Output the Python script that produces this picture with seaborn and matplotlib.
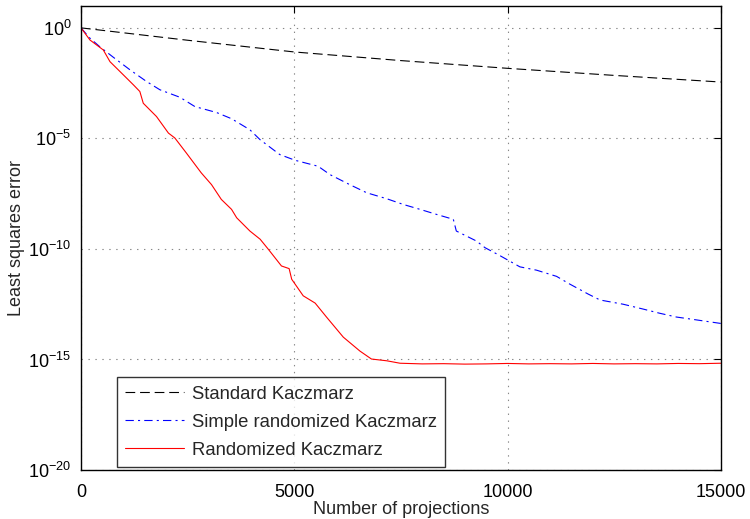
import numpy as np
import pandas as pd
import matplotlib
matplotlib.use("Agg")
import matplotlib.pyplot as plt
import matplotlib.ticker as mticker
import seaborn as sns

# ---------------------------------------------------------
# data (y stored as log10 exponents)
# ---------------------------------------------------------
std_x = [0, 2500, 5000, 7500, 10000, 12500, 15000]
std_log = [0, -0.56, -1.09, -1.48, -1.83, -2.15, -2.45]

simple_x = [0, 200, 445, 758, 1150, 1540, 1850, 2320, 2670, 3180, 3530, 3960,
            4200, 4660, 5020, 5560, 5840, 6300, 6700, 7170, 7560, 7950, 8340,
            8730, 8800, 9270, 9470, 9820, 10290, 10680, 11150, 11460, 11890,
            12170, 12710, 13180, 13570, 13960, 14430, 15000]
simple_log = [0, -0.45, -0.86, -1.33, -1.9, -2.43, -2.8, -3.14, -3.56, -3.83,
              -4.11, -4.61, -5.06, -5.73, -5.99, -6.26, -6.64, -7.09, -7.46,
              -7.73, -7.99, -8.21, -8.44, -8.66, -9.19, -9.64, -9.94, -10.3,
              -10.81, -10.96, -11.24, -11.59, -12.04, -12.31, -12.5, -12.72,
              -12.91, -13.08, -13.21, -13.37]

rand_x = [0, 211, 523, 680, 995, 1230, 1380, 1460, 1770, 2050, 2200, 2470,
          2820, 3060, 3290, 3530, 3650, 3960, 4200, 4390, 4700, 4880, 4940,
          5210, 5490, 5760, 6150, 6540, 6810, 7170, 7480, 8000, 8500, 9000,
          9500, 10000, 10500, 11000, 11500, 12000, 12500, 13000, 13500, 14000,
          14500, 15000]
rand_log = [0, -0.55, -1.0, -1.53, -2.13, -2.58, -2.88, -3.41, -4.01, -4.76,
            -4.98, -5.66, -6.56, -7.09, -7.76, -8.21, -8.59, -9.19, -9.56,
            -10.01, -10.77, -10.89, -11.37, -12.12, -12.45, -13.09, -13.99,
            -14.62, -14.98, -15.06, -15.17, -15.2, -15.19, -15.21, -15.2,
            -15.18, -15.2, -15.19, -15.2, -15.18, -15.2, -15.19, -15.2, -15.18,
            -15.19, -15.17]

names = ["Standard Kaczmarz", "Simple randomized Kaczmarz", "Randomized Kaczmarz"]

df = pd.concat([
    pd.DataFrame({"x": std_x, "err": 10.0 ** np.array(std_log), "method": names[0]}),
    pd.DataFrame({"x": simple_x, "err": 10.0 ** np.array(simple_log), "method": names[1]}),
    pd.DataFrame({"x": rand_x, "err": 10.0 ** np.array(rand_log), "method": names[2]}),
])

# ---------------------------------------------------------
# style
# ---------------------------------------------------------
sns.set_style("white")
plt.rcParams["font.family"] = ["Liberation Sans", "DejaVu Sans"]
plt.rcParams["lines.scale_dashes"] = False

fig = plt.figure(figsize=(7.5, 5.19), dpi=100)
ax = fig.add_axes([0.108, 0.0944, 0.853, 0.8945])

sns.lineplot(
    data=df, x="x", y="err", hue="method", style="method",
    hue_order=names, style_order=names,
    palette={names[0]: "black", names[1]: "blue", names[2]: "red"},
    dashes={names[0]: (7, 3.5), names[1]: (6, 3, 1.5, 3), names[2]: ""},
    estimator=None, sort=False, linewidth=0.8, ax=ax,
)

ax.set_yscale("log")
ax.set_xlim(0, 15000)
ax.set_ylim(1e-20, 1e1)
ax.set_xticks([0, 5000, 10000, 15000])
ax.yaxis.set_major_locator(mticker.FixedLocator([1e-20, 1e-15, 1e-10, 1e-5, 1e0]))
ax.yaxis.set_major_formatter(mticker.LogFormatterMathtext())
ax.yaxis.set_minor_locator(mticker.NullLocator())

ax.grid(True, which="major", color="#888888", linestyle=(0, (1, 4)), linewidth=0.8)
ax.tick_params(direction="in", length=5, width=0.8, top=True, right=True,
               labelsize=13, colors="black")
ax.tick_params(axis="x", pad=10)
ax.tick_params(axis="y", pad=7)
for s in ax.spines.values():
    s.set_color("black")
    s.set_linewidth(1.0)

ax.set_xlabel("Number of projections", fontsize=13, labelpad=0)
ax.set_ylabel("Least squares error", fontsize=13, labelpad=2)

handles, labels = ax.get_legend_handles_labels()
leg = ax.legend(handles, labels, loc="lower left", bbox_to_anchor=(0.056, 0.006),
                borderaxespad=0, fontsize=13.3, frameon=True, fancybox=False,
                handlelength=3.2, handletextpad=0.4, labelspacing=0.6,
                borderpad=0.45)
leg.get_frame().set_edgecolor("black")
leg.get_frame().set_linewidth(1.0)

fig.savefig("out.png", dpi=100)
